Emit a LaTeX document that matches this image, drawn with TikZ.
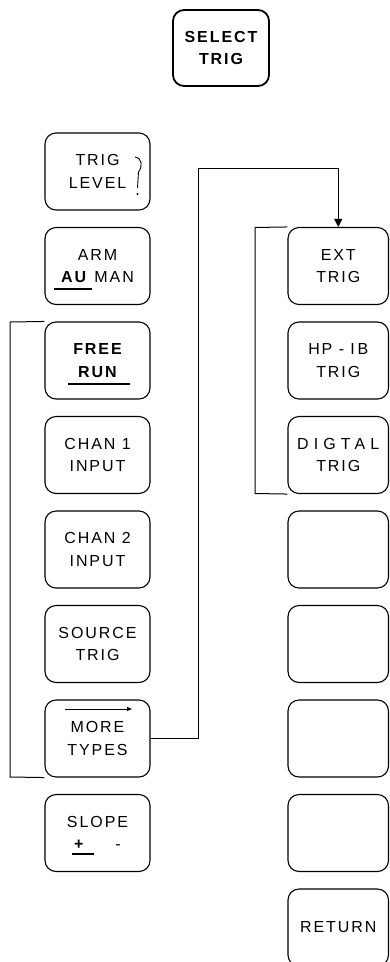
\documentclass[tikz,border=0pt]{standalone}
\usepackage{fontspec}
\setmainfont{Liberation Sans}
\newfontfamily\keyfont{Liberation Sans}[LetterSpace=12]
\newfontfamily\widefont{Liberation Sans}[LetterSpace=32]
\usetikzlibrary{arrows.meta}
\begin{document}
\begin{tikzpicture}[x=1pt,y=-1pt,
  key/.style={draw, rounded corners=11pt, minimum width=105pt, minimum height=77pt,
    line width=1.1pt, align=center, inner sep=0pt,
    font=\keyfont\fontsize{16}{22.5}\selectfont},
  rkey/.style={key, minimum width=100.5pt},
  wire/.style={line width=1pt},
  uline/.style={line width=1.2pt}]
\useasboundingbox (0,0) rectangle (390,962);

% top key
\node[key, line width=1.8pt, minimum width=96pt, minimum height=76pt] (sel) at (221,48) {\bfseries SELECT\\\bfseries TRIG};

% left column
\node[key] (lvl) at (97.5,171.5) {TRIG\hspace{4pt}\\LEVEL\hspace{8pt}};
\node[key] (arm) at (97.5,266) {ARM\\\textbf{AU} MAN};
\node[key] (free) at (97.5,360.5) {\bfseries FREE\\\bfseries RUN};
\node[key] (ch1) at (97.5,455) {CHAN 1\\INPUT};
\node[key] (ch2) at (97.5,549.5) {CHAN 2\\INPUT};
\node[key] (src) at (97.5,644) {SOURCE\\TRIG};
\node[key] (more) at (97.5,738.5) {MORE\\TYPES};
\node[key] (slope) at (97.5,833) {SLOPE\\\textbf{+}\hspace{30pt}-};

% right column
\node[rkey] (ext) at (338.25,266) {EXT\\TRIG};
\node[rkey] (hpib) at (338.25,360.5) {HP - I\,B\\TRIG};
\node[rkey] (dig) at (338.25,455) {{\widefont DIGTAL}\\TRIG};
\node[rkey] (b1) at (338.25,549.5) {};
\node[rkey] (b2) at (338.25,644) {};
\node[rkey] (b3) at (338.25,738.5) {};
\node[rkey] (b4) at (338.25,833) {};
\node[rkey] (ret) at (338.25,927.5) {RETURN};

% knob symbol
\draw[line width=0.9pt] (135,157) .. controls (142,158) and (143,166) .. (138.5,172) -- (137.5,188);
\fill (137.5,194) circle (1.1pt);

% underlines
\draw[uline] (54,289) -- (92,289);
\draw[uline] (68,384) -- (130,384);
\draw[uline] (72,854) -- (94,854);

% arrow over MORE
\draw[line width=0.9pt, -{Triangle[length=5pt,width=4pt]}] (65,709) -- (132,709);

% brackets
\coordinate (lbt) at (10,322);
\coordinate (lbb) at (10,777);
\draw[wire] (free.north west) -- (lbt) -- (lbb) -- (more.south west);
\coordinate (rbt) at (255,227.5);
\coordinate (rbb) at (255,493.5);
\draw[wire] (ext.north west) -- (rbt) -- (rbb) -- (dig.south west);

% connector
\coordinate (c1) at (198,168);
\draw[wire, -{Triangle[length=8pt,width=8pt]}] (more.east) -| (c1) -| (ext.north);
\end{tikzpicture}
\end{document}
